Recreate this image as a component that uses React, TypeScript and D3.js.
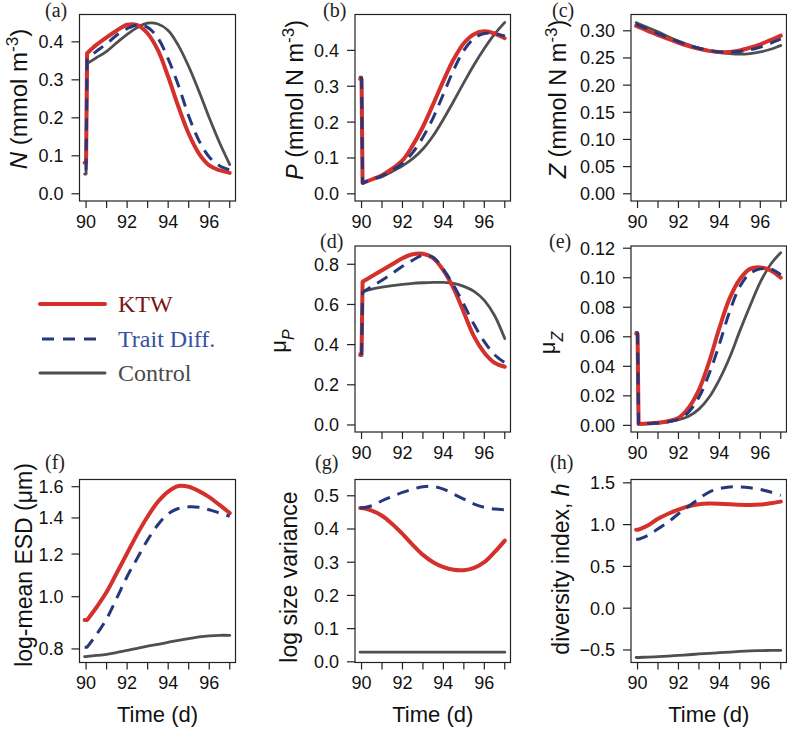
import React from 'react';
import * as d3 from 'd3';

// ---------- data ----------
const TIME = [89.93, 90.0, 90.05, 90.5, 91, 91.5, 92, 92.5, 93, 93.5, 94, 94.5, 95, 95.5, 96, 96.5, 97];

const N_KTW = [0.082, 0.082, 0.37, 0.392, 0.412, 0.43, 0.445, 0.444, 0.422, 0.378, 0.308, 0.229, 0.158, 0.106, 0.075, 0.062, 0.055];
const N_TRAIT = [0.065, 0.065, 0.355, 0.375, 0.395, 0.418, 0.435, 0.444, 0.438, 0.41, 0.355, 0.285, 0.205, 0.14, 0.097, 0.074, 0.063];
const N_CTRL = [0.052, 0.052, 0.343, 0.358, 0.375, 0.398, 0.42, 0.438, 0.449, 0.447, 0.43, 0.39, 0.335, 0.27, 0.2, 0.135, 0.077];

const P_KTW = [0.32, 0.32, 0.03, 0.04, 0.052, 0.07, 0.093, 0.135, 0.187, 0.25, 0.315, 0.375, 0.42, 0.445, 0.453, 0.447, 0.434];
const P_TRAIT = [0.322, 0.322, 0.03, 0.04, 0.05, 0.066, 0.085, 0.115, 0.158, 0.212, 0.278, 0.345, 0.4, 0.433, 0.447, 0.447, 0.44];
const P_CTRL = [0.325, 0.325, 0.032, 0.04, 0.048, 0.062, 0.078, 0.098, 0.125, 0.162, 0.208, 0.258, 0.31, 0.36, 0.405, 0.445, 0.478];

const Z_KTW = [0.309, 0.308, 0.307, 0.3, 0.292, 0.285, 0.278, 0.272, 0.267, 0.263, 0.261, 0.261, 0.264, 0.269, 0.275, 0.283, 0.291];
const Z_TRAIT = [0.312, 0.311, 0.31, 0.303, 0.295, 0.287, 0.28, 0.273, 0.268, 0.264, 0.261, 0.261, 0.262, 0.265, 0.27, 0.277, 0.285];
const Z_CTRL = [0.315, 0.314, 0.313, 0.306, 0.298, 0.289, 0.281, 0.274, 0.268, 0.263, 0.26, 0.258, 0.257, 0.258, 0.261, 0.266, 0.273];

const MUP_KTW = [0.348, 0.348, 0.713, 0.74, 0.77, 0.8, 0.83, 0.85, 0.852, 0.83, 0.77, 0.68, 0.56, 0.44, 0.36, 0.31, 0.29];
const MUP_TRAIT = [0.355, 0.355, 0.66, 0.69, 0.72, 0.755, 0.79, 0.82, 0.845, 0.835, 0.775, 0.695, 0.6, 0.5, 0.415, 0.35, 0.31];
const MUP_CTRL = [0.355, 0.355, 0.664, 0.676, 0.686, 0.694, 0.7, 0.705, 0.708, 0.71, 0.71, 0.705, 0.69, 0.665, 0.62, 0.545, 0.43];

const MUZ_KTW = [0.062, 0.062, 0.001, 0.0012, 0.0017, 0.0028, 0.005, 0.012, 0.024, 0.043, 0.066, 0.086, 0.099, 0.106, 0.107, 0.105, 0.1];
const MUZ_TRAIT = [0.062, 0.062, 0.001, 0.0012, 0.0016, 0.0025, 0.004, 0.009, 0.019, 0.035, 0.055, 0.077, 0.094, 0.103, 0.106, 0.106, 0.102];
const MUZ_CTRL = [0.063, 0.063, 0.001, 0.0012, 0.0016, 0.0024, 0.0038, 0.0062, 0.011, 0.019, 0.031, 0.046, 0.064, 0.081, 0.097, 0.109, 0.117];

const ESD_KTW = [0.905, 0.905, 0.905, 0.955, 1.02, 1.108, 1.204, 1.308, 1.409, 1.5, 1.567, 1.605, 1.6, 1.57, 1.53, 1.48, 1.43];
const ESD_TRAIT = [0.806, 0.806, 0.806, 0.85, 0.91, 0.995, 1.09, 1.18, 1.275, 1.36, 1.425, 1.458, 1.468, 1.465, 1.45, 1.43, 1.41];
const ESD_CTRL = [0.774, 0.774, 0.775, 0.778, 0.782, 0.788, 0.795, 0.802, 0.81, 0.816, 0.823, 0.83, 0.836, 0.842, 0.846, 0.848, 0.848];

const VAR_KTW = [0.463, 0.463, 0.463, 0.455, 0.44, 0.415, 0.385, 0.352, 0.322, 0.3, 0.285, 0.277, 0.276, 0.283, 0.3, 0.33, 0.365];
const VAR_TRAIT = [0.463, 0.463, 0.463, 0.47, 0.485, 0.498, 0.51, 0.52, 0.527, 0.528, 0.52, 0.505, 0.49, 0.475, 0.465, 0.46, 0.458];
const VAR_CTRL = [0.029, 0.029, 0.029, 0.029, 0.029, 0.029, 0.029, 0.029, 0.029, 0.029, 0.029, 0.029, 0.029, 0.029, 0.029, 0.029, 0.029];

const H_KTW = [0.94, 0.94, 0.94, 0.99, 1.07, 1.13, 1.18, 1.22, 1.245, 1.252, 1.25, 1.245, 1.238, 1.235, 1.24, 1.255, 1.275];
const H_TRAIT = [0.825, 0.825, 0.825, 0.87, 0.95, 1.03, 1.13, 1.22, 1.31, 1.39, 1.43, 1.45, 1.45, 1.44, 1.42, 1.39, 1.35];
const H_CTRL = [-0.59, -0.59, -0.59, -0.585, -0.58, -0.573, -0.565, -0.557, -0.548, -0.54, -0.533, -0.525, -0.518, -0.512, -0.508, -0.506, -0.505];

const X_TICKS = [90, 91, 92, 93, 94, 95, 96, 97];
const X_LABELS = [90, 92, 94, 96];
const TICKS_N = [0, 0.1, 0.2, 0.3, 0.4];
const TICKS_Z = [0, 0.05, 0.1, 0.15, 0.2, 0.25, 0.3];
const TICKS_MUP = [0, 0.2, 0.4, 0.6, 0.8];
const TICKS_MUZ = [0, 0.02, 0.04, 0.06, 0.08, 0.1, 0.12];
const TICKS_ESD = [0.8, 1.0, 1.2, 1.4, 1.6];
const TICKS_VAR = [0, 0.1, 0.2, 0.3, 0.4, 0.5];
const TICKS_H = [-0.5, 0, 0.5, 1, 1.5];

const SERIES_NAMES = ['KTW', 'Trait Diff.', 'Control'];

// ---------- style ----------
const SANS = '"Liberation Sans", Arial, Helvetica, sans-serif';
const SERIF = '"Liberation Serif", "Times New Roman", serif';
const RED = '#d4302c';
const BLUE = '#26377c';
const GRAY = '#4f4f51';
const TEXT_COLORS = ['#7a1517', '#3550a3', '#4a4a4a'];

const COLS = [[79.5, 235.5], [355, 510.5], [631, 786.5]];
const ROWS = [[14.5, 201], [246, 432], [479.5, 662.5]];
const X_DOMAIN = [89.68, 97.28];

type Panel = {
  tag: string; col: number; row: number; domain: number[]; log?: boolean;
  ticks: number[]; digits: number; ktw: number[]; trait: number[]; ctrl: number[];
  tagX: number; tagY: number; labX: number; labY: number; labSize: number; label: string;
};

const PANELS: Panel[] = [
  { tag: '(a)', col: 0, row: 0, domain: [-0.019, 0.472], ticks: TICKS_N, digits: 1, ktw: N_KTW, trait: N_TRAIT, ctrl: N_CTRL, tagX: 45, tagY: 16.5, labX: 27, labY: 99, labSize: 24, label: 'N' },
  { tag: '(b)', col: 1, row: 0, domain: [-0.02, 0.5], ticks: TICKS_N, digits: 1, ktw: P_KTW, trait: P_TRAIT, ctrl: P_CTRL, tagX: 323, tagY: 16.5, labX: 303, labY: 100, labSize: 23.5, label: 'P' },
  { tag: '(c)', col: 2, row: 0, domain: [-0.0133, 0.33], ticks: TICKS_Z, digits: 2, ktw: Z_KTW, trait: Z_TRAIT, ctrl: Z_CTRL, tagX: 552, tagY: 17, labX: 566, labY: 99, labSize: 23.5, label: 'Z' },
  { tag: '(d)', col: 1, row: 1, domain: [-0.035, 0.891], ticks: TICKS_MUP, digits: 1, ktw: MUP_KTW, trait: MUP_TRAIT, ctrl: MUP_CTRL, tagX: 320, tagY: 247.5, labX: 286, labY: 341, labSize: 22, label: 'muP' },
  { tag: '(e)', col: 2, row: 1, domain: [-0.0045, 0.1215], ticks: TICKS_MUZ, digits: 2, ktw: MUZ_KTW, trait: MUZ_TRAIT, ctrl: MUZ_CTRL, tagX: 549, tagY: 248, labX: 555, labY: 343, labSize: 22, label: 'muZ' },
  { tag: '(f)', col: 0, row: 2, domain: [0.755, 1.65], log: true, ticks: TICKS_ESD, digits: 1, ktw: ESD_KTW, trait: ESD_TRAIT, ctrl: ESD_CTRL, tagX: 45, tagY: 468.5, labX: 32, labY: 565, labSize: 23, label: 'esd' },
  { tag: '(g)', col: 1, row: 2, domain: [-0.002, 0.549], ticks: TICKS_VAR, digits: 1, ktw: VAR_KTW, trait: VAR_TRAIT, ctrl: VAR_CTRL, tagX: 315, tagY: 468.5, labX: 297, labY: 577, labSize: 23, label: 'var' },
  { tag: '(h)', col: 2, row: 2, domain: [-0.65, 1.54], ticks: TICKS_H, digits: 1, ktw: H_KTW, trait: H_TRAIT, ctrl: H_CTRL, tagX: 550, tagY: 468.5, labX: 569, labY: 569, labSize: 23, label: 'h' },
];

function yLabel(label: string, size: number) {
  const sup = (s: string) => [
    <tspan key="s" dy={-size * 0.38} fontSize={size * 0.72}>{s}</tspan>,
    <tspan key="e" dy={size * 0.38}>)</tspan>,
  ];
  switch (label) {
    case 'N':
      return [<tspan key="n" fontStyle="italic">N</tspan>, <tspan key="t"> (mmol m</tspan>, ...sup('-3')];
    case 'P':
      return [<tspan key="n" fontStyle="italic">P</tspan>, <tspan key="t"> (mmol N m</tspan>, ...sup('-3')];
    case 'Z':
      return [<tspan key="n" fontStyle="italic">Z</tspan>, <tspan key="t"> (mmol N m</tspan>, ...sup('-3')];
    case 'muP':
      return [<tspan key="m">μ</tspan>, <tspan key="s" dy={8} fontSize={16} fontStyle="italic">P</tspan>];
    case 'muZ':
      return [<tspan key="m">μ</tspan>, <tspan key="s" dy={8} fontSize={16} fontStyle="italic">Z</tspan>];
    case 'esd':
      return [<tspan key="t">log-mean ESD (μm)</tspan>];
    case 'var':
      return [<tspan key="t">log size variance</tspan>];
    default:
      return [<tspan key="t">diversity index, </tspan>, <tspan key="h" fontStyle="italic">h</tspan>];
  }
}

function PanelView({ p }: { p: Panel }) {
  const [x0, x1] = COLS[p.col];
  const [y0, y1] = ROWS[p.row];
  const x = d3.scaleLinear().domain(X_DOMAIN).range([x0, x1]);
  const y = (p.log ? d3.scaleLog() : d3.scaleLinear()).domain(p.domain).range([y1, y0]);
  const pts = (vals: number[]) => vals.map((v, i) => [x(TIME[i]), y(v)] as [number, number]);
  const head = d3.line().curve(d3.curveLinear);
  const tail = d3.line().curve(d3.curveCatmullRom.alpha(0.5));
  const path = (vals: number[]) => {
    const all = pts(vals);
    return (head(all.slice(0, 3)) || '') + (tail(all.slice(2)) || '').replace(/^M/, 'L');
  };
  const fmt = (v: number) => v.toFixed(p.digits).replace('-', '\u2212');
  return (
    <g>
      <path d={path(p.ctrl)} fill="none" stroke={GRAY} strokeWidth={2.8} strokeLinejoin="round" strokeLinecap="round" />
      <path d={path(p.ktw)} fill="none" stroke={RED} strokeWidth={4} strokeLinejoin="round" strokeLinecap="round" />
      <path d={path(p.trait)} fill="none" stroke={BLUE} strokeWidth={3} strokeDasharray="12 8" strokeLinejoin="round" />
      <rect x={x0} y={y0} width={x1 - x0} height={y1 - y0} fill="none" stroke="#222" strokeWidth={1.2} />
      {X_TICKS.map((t) => (
        <line key={'xt' + t} x1={x(t)} x2={x(t)} y1={y1} y2={y1 + 7} stroke="#222" strokeWidth={1.2} />
      ))}
      {X_LABELS.map((t) => (
        <text key={'xl' + t} x={x(t)} y={y1 + 26.5} textAnchor="middle" fontFamily={SANS} fontSize={18} fill="#111">{t}</text>
      ))}
      {p.ticks.map((t) => (
        <g key={'yt' + t}>
          <line x1={x0 - 8} x2={x0} y1={y(t)} y2={y(t)} stroke="#222" strokeWidth={1.2} />
          <text x={x0 - 16} y={y(t)} dy="0.36em" textAnchor="end" fontFamily={SANS} fontSize={18} fill="#111">{fmt(t)}</text>
        </g>
      ))}
      <text x={p.tagX} y={p.tagY} fontFamily={SERIF} fontSize={20} fill="#222">{p.tag}</text>
      <text transform={`translate(${p.labX},${p.labY}) rotate(-90)`} textAnchor="middle" fontFamily={SANS} fontSize={p.labSize} fill="#111">
        {yLabel(p.label, p.labSize)}
      </text>
      {p.row === 2 && (
        <text x={(x0 + x1) / 2} y={722} textAnchor="middle" fontFamily={SANS} fontSize={22} fill="#111">Time (d)</text>
      )}
    </g>
  );
}

function Legend() {
  const rows = [
    { y: 304, color: RED, w: 4, dash: undefined as string | undefined, x1: 40, x2: 105 },
    { y: 339, color: BLUE, w: 3, dash: '12 9', x1: 42, x2: 97 },
    { y: 373, color: GRAY, w: 3, dash: undefined, x1: 40, x2: 105 },
  ];
  return (
    <g>
      {rows.map((r, i) => (
        <g key={i}>
          <line x1={r.x1} x2={r.x2} y1={r.y} y2={r.y} stroke={r.color} strokeWidth={r.w} strokeDasharray={r.dash} strokeLinecap={i === 1 ? 'butt' : 'round'} />
          <text x={118} y={r.y + 7.5} fontFamily={SERIF} fontSize={24} fill={TEXT_COLORS[i]}>{SERIES_NAMES[i]}</text>
        </g>
      ))}
    </g>
  );
}

export default function App() {
  return (
    <svg width={787} height={730} viewBox="0 0 787 730" style={{ position: 'absolute', left: 0, top: 0, display: 'block', background: '#fff' }}>
      {PANELS.map((p) => <PanelView key={p.tag} p={p} />)}
      <Legend />
    </svg>
  );
}
